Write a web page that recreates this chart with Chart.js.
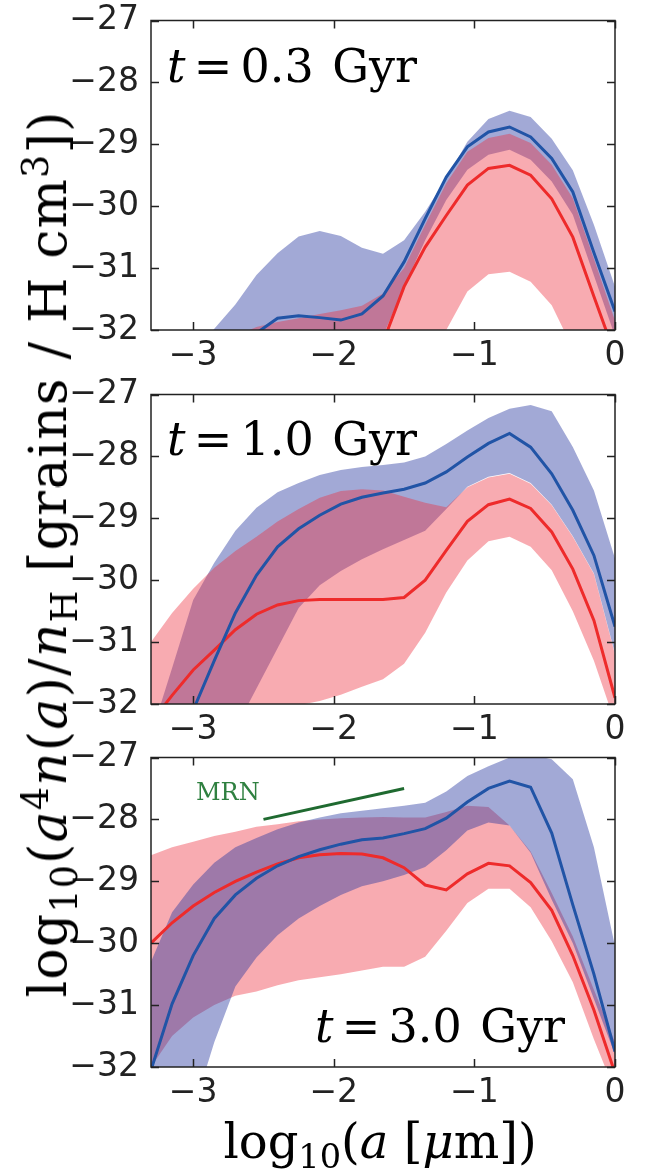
<!DOCTYPE html>
<html>
<head>
<meta charset="utf-8">
<script src="https://cdn.jsdelivr.net/npm/chart.js@4.4.1/dist/chart.umd.min.js"></script>
<style>
  body { margin: 0; background: #fff; }
  #page { position: relative; width: 651px; height: 1171px; overflow: hidden; background: #fff; }
  canvas { position: absolute; left: 0; }
  .tx { position: absolute; font-family: 'DejaVu Serif', serif; color: #000; white-space: nowrap; line-height: 1; }
  .tx sub { font-size: 0.7em; vertical-align: -0.3em; line-height: 0; }
  .tx sup { font-size: 0.7em; vertical-align: 0.5em; line-height: 0; }
  .eq { margin: 0 0.18em; }
  #ytitle { left: 48px; top: 554px; font-size: 52px; letter-spacing: 1.2px; transform: translate(-50%, -50%) rotate(-90deg); }
  #xtitle { left: 380px; top: 1117px; font-size: 48px; transform: translateX(-50%); }
  .tlab { font-size: 46px; word-spacing: 4px; }
  #mrn { left: 196px; top: 780px; font-size: 24px; color: #2f8040; }
</style>
</head>
<body>
<div id="page">
  <canvas id="c03" width="651" height="380" style="top:0px"></canvas>
  <canvas id="c10" width="651" height="380" style="top:374px"></canvas>
  <canvas id="c30" width="651" height="380" style="top:737px"></canvas>

  <div class="tx tlab" style="left:167px; top:43px"><i>t</i><span class="eq">=</span>0.3 Gyr</div>
  <div class="tx tlab" style="left:167px; top:416px"><i>t</i><span class="eq">=</span>1.0 Gyr</div>
  <div class="tx tlab" style="left:315px; top:1003px"><i>t</i><span class="eq">=</span>3.0 Gyr</div>
  <div class="tx" id="mrn">MRN</div>

  <div class="tx" id="ytitle">log<sub>10</sub>(<i>a</i><sup>4</sup><i>n</i>(<i>a</i>)/<i>n</i><sub>H</sub> [grains / H cm<sup>3</sup>])</div>
  <div class="tx" id="xtitle">log<sub>10</sub>(<i>a</i> [<i>μ</i>m])</div>
</div>

<script>
// grain radius grid, log10(a / um)
const logA = [-3.3, -3.15, -3.0, -2.85, -2.7, -2.55, -2.4, -2.25, -2.1, -1.95, -1.8, -1.65,
              -1.5, -1.35, -1.2, -1.05, -0.9, -0.75, -0.6, -0.45, -0.3, -0.15, 0];

const xTicks = [-3, -2, -1, 0];
const yTicks = [-32, -31, -30, -29, -28, -27];

// t = 0.3 Gyr
const blueMid03 = [-34.0, -33.6, -33.2, -32.8, -32.4, -32.05, -31.81, -31.77, -31.8, -31.84, -31.74, -31.45, -30.9, -30.2, -29.53, -29.04, -28.8, -28.72, -28.88, -29.23, -29.77, -30.75, -31.7];
const blueHi03  = [-33.4, -32.9, -32.4, -31.98, -31.59, -31.11, -30.76, -30.49, -30.4, -30.48, -30.67, -30.77, -30.55, -30.09, -29.55, -28.96, -28.59, -28.46, -28.56, -28.91, -29.42, -30.3, -31.3];
const blueLo03  = [-35.0, -34.6, -34.2, -33.8, -33.4, -33.0, -32.7, -32.6, -32.6, -32.6, -32.5, -32.1, -31.3, -30.55, -29.9, -29.41, -29.17, -29.09, -29.25, -29.6, -30.14, -31.12, -32.1];
const redMid03  = [-36.0, -35.6, -35.2, -34.8, -34.4, -34.0, -33.6, -33.3, -33.0, -32.8, -32.6, -32.2, -31.3, -30.66, -30.15, -29.66, -29.39, -29.34, -29.5, -29.88, -30.5, -31.46, -32.4];
const redHi03   = [-33.5, -33.2, -32.8, -32.4, -32.1, -31.95, -31.87, -31.81, -31.74, -31.68, -31.61, -31.41, -31.0, -30.3, -29.63, -29.12, -28.9, -28.83, -28.98, -29.33, -29.87, -30.85, -31.85];
const redLo03   = [-36.5, -36.0, -35.5, -35.0, -34.6, -34.2, -33.9, -33.6, -33.4, -33.2, -33.0, -32.9, -32.8, -32.6, -32.0, -31.38, -31.1, -31.06, -31.22, -31.6, -32.3, -33.0, -33.6];

// t = 1.0 Gyr
const blueMid10 = [-33.6, -32.9, -32.1, -31.3, -30.53, -29.92, -29.46, -29.17, -28.95, -28.77, -28.66, -28.59, -28.53, -28.43, -28.25, -28.01, -27.79, -27.63, -27.85, -28.28, -28.87, -29.6, -30.75];
const blueHi10  = [-32.5, -31.42, -30.32, -29.72, -29.2, -28.83, -28.58, -28.43, -28.3, -28.22, -28.17, -28.14, -28.1, -28.0, -27.8, -27.58, -27.38, -27.23, -27.17, -27.27, -27.85, -28.55, -29.65];
const blueLo10  = [-34.5, -34.0, -33.5, -33.0, -32.4, -31.75, -31.1, -30.45, -30.08, -29.85, -29.66, -29.5, -29.35, -29.2, -28.85, -28.49, -28.33, -28.27, -28.43, -28.78, -29.29, -29.89, -31.19];
const redMid10  = [-32.3, -31.86, -31.45, -31.13, -30.8, -30.55, -30.4, -30.33, -30.31, -30.31, -30.31, -30.31, -30.28, -30.0, -29.52, -29.05, -28.78, -28.69, -28.84, -29.22, -29.82, -30.65, -31.9];
const redHi10   = [-31.0, -30.53, -30.14, -29.8, -29.53, -29.3, -29.05, -28.85, -28.67, -28.56, -28.53, -28.55, -28.65, -28.75, -28.82, -28.5, -28.34, -28.28, -28.44, -28.79, -29.3, -29.9, -31.2];
const redLo10   = [-33.6, -33.4, -33.2, -33.0, -32.8, -32.6, -32.3, -32.02, -31.95, -31.85, -31.72, -31.6, -31.35, -30.85, -30.2, -29.68, -29.37, -29.3, -29.46, -29.84, -30.5, -31.3, -32.3];

// t = 3.0 Gyr
const blueMid30 = [-32.05, -30.98, -30.2, -29.6, -29.22, -28.95, -28.75, -28.6, -28.49, -28.4, -28.33, -28.3, -28.23, -28.15, -27.98, -27.72, -27.5, -27.38, -27.48, -28.22, -29.38, -30.5, -31.75];
const blueHi30  = [-30.3, -29.5, -29.05, -28.7, -28.45, -28.3, -28.16, -28.05, -27.97, -27.9, -27.86, -27.82, -27.78, -27.73, -27.55, -27.3, -27.14, -27.0, -26.95, -27.03, -27.35, -28.45, -30.05];
const blueLo30  = [-34.5, -33.8, -32.7, -31.6, -30.7, -30.23, -29.87, -29.6, -29.4, -29.22, -29.08, -29.0, -28.9, -28.77, -28.5, -28.18, -28.05, -28.1, -28.54, -29.3, -30.0, -30.9, -31.8];
const redMid30  = [-30.0, -29.67, -29.4, -29.18, -29.0, -28.85, -28.72, -28.62, -28.57, -28.55, -28.56, -28.62, -28.78, -29.06, -29.14, -28.88, -28.71, -28.75, -29.02, -29.47, -30.2, -31.08, -32.1];
const redHi30   = [-28.58, -28.45, -28.36, -28.27, -28.2, -28.12, -28.08, -28.03, -28.0, -27.98, -27.97, -27.96, -27.97, -27.97, -27.88, -27.78, -27.8, -28.1, -28.52, -29.19, -29.89, -30.75, -31.6];
const redLo30   = [-32.0, -31.5, -31.2, -31.0, -30.85, -30.78, -30.68, -30.6, -30.55, -30.5, -30.44, -30.38, -30.38, -30.22, -29.8, -29.35, -29.12, -29.12, -29.42, -29.97, -30.63, -31.55, -32.4];

// MRN slope guide (a^4 n(a) ~ a^0.5)
const mrnA = [-2.5, -1.5];
const mrnY = [-28.0, -27.5];

const BLUE_LINE = '#2154a6';
const RED_LINE = '#ee2b2b';
const BLUE_FILL = 'rgba(40, 55, 160, 0.43)';
const RED_FILL = 'rgba(238, 45, 60, 0.40)';
const AXIS = '#222222';

const pts = (xs, ys) => xs.map((x, i) => ({ x: x, y: ys[i] }));
const fmt = v => (v < 0 ? '\u2212' + Math.abs(v) : String(v));

function line(ys, color) {
    return { data: pts(logA, ys), borderColor: color, borderWidth: 3, pointRadius: 0, fill: false };
}

function band(hi, lo, color) {
    return [
        { data: pts(logA, hi), fill: '+1', backgroundColor: color, borderColor: 'transparent', borderWidth: 0, pointRadius: 0 },
        { data: pts(logA, lo), fill: false, borderColor: 'transparent', borderWidth: 0, pointRadius: 0 }
    ];
}

// box with inward ticks on all four sides
const frame = {
    id: 'frame',
    afterDatasetsDraw(chart) {
        const { ctx, chartArea: a, scales: { x, y } } = chart;
        ctx.save();
        ctx.strokeStyle = AXIS;
        ctx.lineWidth = 1.5;
        ctx.beginPath();
        xTicks.forEach(v => {
            const px = Math.round(x.getPixelForValue(v)) + 0.5;
            ctx.moveTo(px, a.bottom); ctx.lineTo(px, a.bottom - 8);
            ctx.moveTo(px, a.top); ctx.lineTo(px, a.top + 8);
        });
        yTicks.forEach(v => {
            const py = Math.round(y.getPixelForValue(v)) + 0.5;
            ctx.moveTo(a.left, py); ctx.lineTo(a.left + 8, py);
            ctx.moveTo(a.right, py); ctx.lineTo(a.right - 8, py);
        });
        ctx.stroke();
        ctx.strokeRect(a.left, a.top, a.right - a.left, a.bottom - a.top);
        ctx.restore();
    }
};

function makePanel(id, s, redOnTop, extra) {
    const bands = redOnTop
        ? band(s.redHi, s.redLo, RED_FILL).concat(band(s.blueHi, s.blueLo, BLUE_FILL))
        : band(s.blueHi, s.blueLo, BLUE_FILL).concat(band(s.redHi, s.redLo, RED_FILL));
    const datasets = (extra || []).concat([line(s.blueMid, BLUE_LINE), line(s.redMid, RED_LINE)], bands);
    const tickFont = { family: 'DejaVu Sans', size: 33, lineHeight: 1 };

    new Chart(document.getElementById(id), {
        type: 'line',
        data: { datasets: datasets },
        options: {
            responsive: false,
            animation: false,
            events: [],
            layout: { padding: { top: 20, right: 36, bottom: 0, left: 0 } },
            plugins: { legend: { display: false }, tooltip: { enabled: false } },
            scales: {
                x: {
                    type: 'linear', min: -3.3, max: 0,
                    grid: { display: false }, border: { display: false },
                    ticks: { font: tickFont, color: AXIS, padding: 2, maxRotation: 0, autoSkip: false, callback: fmt },
                    afterBuildTicks: sc => { sc.ticks = xTicks.map(v => ({ value: v })); },
                    afterFit: sc => { sc.height = 50; }
                },
                y: {
                    type: 'linear', min: -32, max: -27,
                    grid: { display: false }, border: { display: false },
                    ticks: { font: tickFont, color: AXIS, padding: 4, autoSkip: false, callback: fmt },
                    afterBuildTicks: sc => { sc.ticks = yTicks.map(v => ({ value: v })); },
                    afterFit: sc => { sc.width = 151; }
                }
            }
        },
        plugins: [frame]
    });
}

makePanel('c03', { blueMid: blueMid03, blueHi: blueHi03, blueLo: blueLo03, redMid: redMid03, redHi: redHi03, redLo: redLo03 }, true);
makePanel('c10', { blueMid: blueMid10, blueHi: blueHi10, blueLo: blueLo10, redMid: redMid10, redHi: redHi10, redLo: redLo10 }, true);
makePanel('c30', { blueMid: blueMid30, blueHi: blueHi30, blueLo: blueLo30, redMid: redMid30, redHi: redHi30, redLo: redLo30 }, false,
    [{ data: pts(mrnA, mrnY), borderColor: '#1f6a30', borderWidth: 3, pointRadius: 0, fill: false }]);
</script>
</body>
</html>
